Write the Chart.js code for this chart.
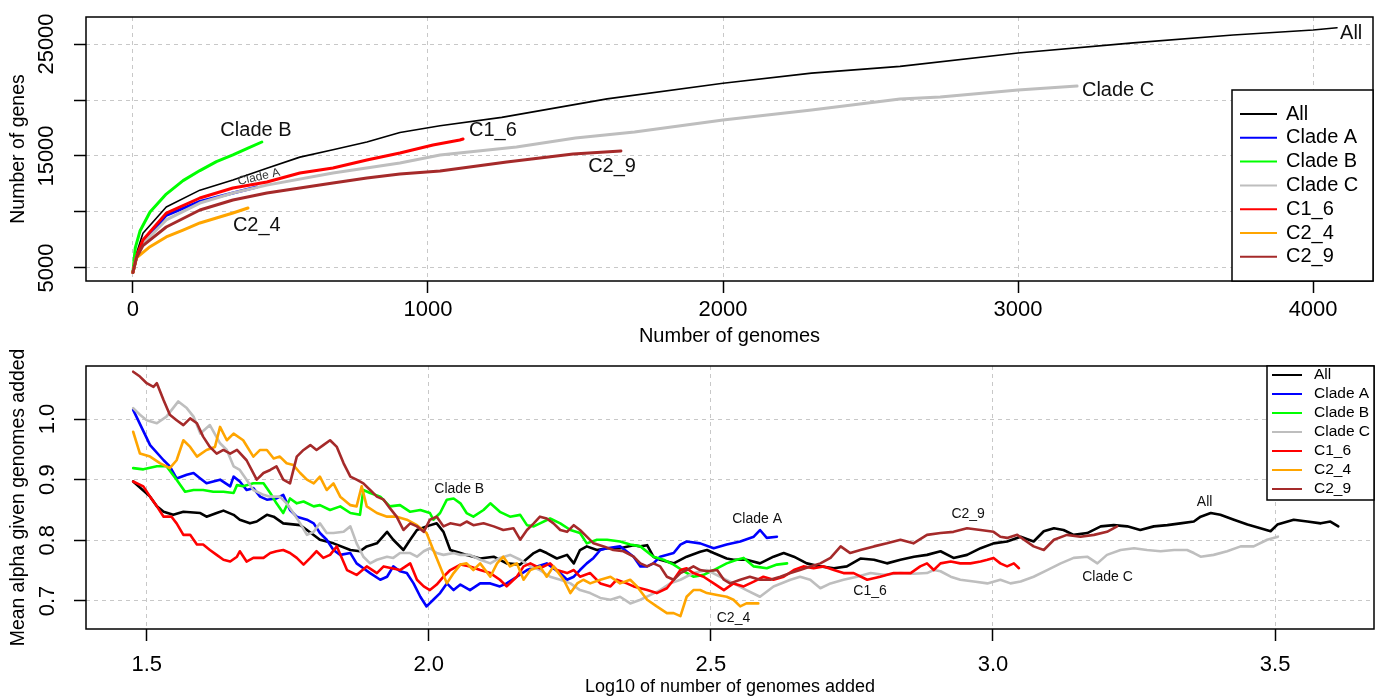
<!DOCTYPE html>
<html>
<head>
<meta charset="utf-8">
<script src="https://cdn.jsdelivr.net/npm/chart.js@4.4.0/dist/chart.umd.min.js"></script>
<style>
  html, body { margin: 0; padding: 0; background: #fff; }
  .panel { position: absolute; left: 0; }
</style>
</head>
<body>
<div class="panel" style="top:0"><canvas id="genesChart" width="1381" height="350"></canvas></div>
<div class="panel" style="top:350px"><canvas id="alphaChart" width="1381" height="348"></canvas></div>
<script>
const seriesNames = ["All", "Clade A", "Clade B", "Clade C", "C1_6", "C2_4", "C2_9"];
const seriesColors = ["#000000", "#0000ff", "#00ff00", "#bebebe", "#ff0000", "#ffa500", "#a52a2a"];

// top panel: [number of genomes, number of genes]
const genesAll = [[0,4600],[12,6300],[34,8100],[113,10450],[227,11950],[339,12850],[454,13900],[566,14900],[678,15550],[793,16250],[905,17100],[1041,17700],[1250,18450],[1607,20100],[2000,21500],[2300,22400],[2600,23000],[3000,24200],[3390,25100],[3729,25800],[4000,26250],[4081,26450]];
const genesCladeA = [[0,4600],[12,6000],[34,7300],[113,9700],[227,10950],[339,11700],[420,12230]];
const genesCladeB = [[0,4600],[8,6800],[24,8300],[58,10000],[113,11600],[170,12800],[227,13700],[283,14500],[339,15100],[390,15700],[437,16250]];
const genesCladeC = [[0,4600],[12,6000],[34,7200],[113,9290],[227,10800],[339,11700],[454,12400],[678,13480],[905,14380],[1041,15090],[1300,15800],[1500,16600],[1700,17140],[2000,18220],[2300,19110],[2600,20090],[2736,20270],[3000,20890],[3200,21250]];
const genesC1_6 = [[0,4600],[12,6000],[34,7500],[113,9900],[227,11250],[339,12140],[454,12680],[566,13480],[678,13930],[793,14640],[905,15270],[1017,15980],[1108,16430],[1119,16520]];
const genesC2_4 = [[0,4600],[12,5900],[58,6900],[113,7770],[170,8390],[227,9020],[283,9460],[339,9910],[390,10360]];
const genesC2_9 = [[0,4600],[12,5900],[34,7000],[113,8660],[227,10180],[339,11070],[454,11700],[566,12140],[678,12590],[793,13040],[905,13390],[1041,13660],[1267,14460],[1492,15180],[1654,15450]];
const genesXTicks = [0, 1000, 2000, 3000, 4000];
const genesYTicks = [5000, 10000, 15000, 20000, 25000];

// bottom panel: [log10 genomes added, mean alpha]
const alphaAll = [[1.476,0.897],[1.506,0.872],[1.518,0.856],[1.530,0.847],[1.547,0.842],[1.565,0.847],[1.595,0.845],[1.606,0.839],[1.624,0.845],[1.636,0.849],[1.654,0.842],[1.665,0.834],[1.683,0.828],[1.695,0.831],[1.713,0.842],[1.725,0.839],[1.742,0.828],[1.772,0.825],[1.790,0.813],[1.807,0.801],[1.831,0.795],[1.861,0.784],[1.878,0.782],[1.890,0.790],[1.908,0.795],[1.926,0.814],[1.937,0.801],[1.955,0.784],[1.967,0.801],[1.979,0.817],[1.996,0.823],[2.014,0.828],[2.026,0.814],[2.038,0.784],[2.056,0.779],[2.067,0.776],[2.091,0.770],[2.115,0.773],[2.138,0.762],[2.162,0.760],[2.186,0.779],[2.197,0.784],[2.209,0.779],[2.227,0.770],[2.245,0.776],[2.257,0.762],[2.268,0.784],[2.280,0.790],[2.298,0.784],[2.316,0.787],[2.339,0.787],[2.363,0.792],[2.375,0.790],[2.387,0.792],[2.398,0.773],[2.410,0.768],[2.434,0.762],[2.457,0.773],[2.481,0.781],[2.493,0.784],[2.505,0.779],[2.528,0.770],[2.540,0.768],[2.563,0.768],[2.587,0.762],[2.611,0.773],[2.629,0.779],[2.647,0.773],[2.670,0.762],[2.694,0.757],[2.718,0.754],[2.741,0.757],[2.765,0.770],[2.789,0.768],[2.812,0.762],[2.836,0.768],[2.860,0.773],[2.883,0.776],[2.907,0.782],[2.930,0.771],[2.954,0.776],[2.978,0.787],[3.001,0.795],[3.025,0.798],[3.049,0.806],[3.072,0.798],[3.090,0.815],[3.108,0.820],[3.125,0.817],[3.143,0.809],[3.167,0.812],[3.191,0.823],[3.214,0.825],[3.238,0.823],[3.261,0.817],[3.285,0.823],[3.309,0.825],[3.332,0.828],[3.356,0.831],[3.368,0.839],[3.386,0.845],[3.403,0.842],[3.427,0.834],[3.451,0.826],[3.474,0.820],[3.492,0.815],[3.504,0.826],[3.533,0.834],[3.557,0.831],[3.581,0.828],[3.598,0.831],[3.612,0.823]];
const alphaCladeA = [[1.476,1.015],[1.506,0.957],[1.530,0.932],[1.541,0.922],[1.553,0.902],[1.571,0.908],[1.583,0.911],[1.595,0.902],[1.606,0.894],[1.618,0.897],[1.630,0.900],[1.648,0.889],[1.654,0.905],[1.665,0.897],[1.677,0.883],[1.689,0.886],[1.701,0.872],[1.713,0.867],[1.730,0.869],[1.742,0.875],[1.754,0.850],[1.766,0.839],[1.784,0.834],[1.796,0.828],[1.807,0.812],[1.819,0.801],[1.831,0.784],[1.843,0.776],[1.861,0.779],[1.872,0.762],[1.884,0.754],[1.896,0.746],[1.914,0.735],[1.926,0.740],[1.937,0.757],[1.949,0.749],[1.961,0.746],[1.973,0.729],[1.985,0.707],[1.996,0.691],[2.008,0.702],[2.020,0.713],[2.032,0.729],[2.044,0.718],[2.056,0.727],[2.073,0.718],[2.091,0.729],[2.109,0.729],[2.126,0.724],[2.138,0.729],[2.156,0.740],[2.174,0.751],[2.192,0.757],[2.209,0.762],[2.233,0.746],[2.245,0.735],[2.257,0.740],[2.268,0.751],[2.280,0.762],[2.292,0.771],[2.304,0.784],[2.316,0.787],[2.339,0.790],[2.363,0.773],[2.375,0.757],[2.387,0.757],[2.398,0.762],[2.410,0.773],[2.434,0.779],[2.446,0.793],[2.457,0.798],[2.481,0.795],[2.505,0.787],[2.528,0.793],[2.552,0.798],[2.576,0.806],[2.587,0.817],[2.599,0.804],[2.617,0.806]];
const alphaCladeB = [[1.476,0.919],[1.494,0.917],[1.518,0.922],[1.535,0.922],[1.553,0.900],[1.568,0.880],[1.583,0.883],[1.600,0.883],[1.618,0.880],[1.636,0.880],[1.654,0.878],[1.660,0.891],[1.671,0.889],[1.689,0.894],[1.707,0.894],[1.719,0.878],[1.730,0.861],[1.742,0.845],[1.754,0.869],[1.766,0.861],[1.778,0.864],[1.796,0.856],[1.807,0.858],[1.825,0.850],[1.843,0.856],[1.861,0.845],[1.878,0.842],[1.884,0.883],[1.896,0.878],[1.914,0.872],[1.931,0.856],[1.949,0.858],[1.967,0.847],[1.985,0.850],[2.002,0.845],[2.008,0.834],[2.020,0.845],[2.032,0.867],[2.044,0.869],[2.056,0.861],[2.067,0.845],[2.079,0.839],[2.097,0.850],[2.109,0.861],[2.126,0.847],[2.144,0.839],[2.162,0.842],[2.174,0.825],[2.186,0.823],[2.197,0.828],[2.215,0.836],[2.233,0.828],[2.251,0.817],[2.268,0.812],[2.280,0.795],[2.298,0.801],[2.316,0.801],[2.339,0.798],[2.357,0.793],[2.375,0.790],[2.398,0.773],[2.416,0.768],[2.434,0.760],[2.452,0.749],[2.469,0.740],[2.487,0.743],[2.505,0.751],[2.528,0.762],[2.546,0.768],[2.558,0.771],[2.576,0.757],[2.599,0.754],[2.617,0.760],[2.635,0.762]];
const alphaCladeC = [[1.476,1.018],[1.488,1.007],[1.500,0.998],[1.518,0.993],[1.535,1.004],[1.556,1.029],[1.571,1.018],[1.583,1.004],[1.595,0.976],[1.612,0.990],[1.630,0.960],[1.642,0.949],[1.654,0.922],[1.665,0.916],[1.677,0.900],[1.689,0.883],[1.707,0.875],[1.719,0.872],[1.736,0.872],[1.748,0.861],[1.760,0.845],[1.772,0.828],[1.784,0.809],[1.796,0.814],[1.807,0.828],[1.819,0.812],[1.831,0.812],[1.849,0.814],[1.861,0.823],[1.872,0.795],[1.884,0.773],[1.896,0.762],[1.908,0.768],[1.926,0.773],[1.937,0.771],[1.949,0.779],[1.967,0.779],[1.979,0.773],[1.991,0.782],[2.002,0.787],[2.014,0.779],[2.026,0.776],[2.044,0.779],[2.056,0.776],[2.073,0.776],[2.091,0.768],[2.109,0.762],[2.126,0.771],[2.144,0.776],[2.162,0.768],[2.180,0.757],[2.197,0.751],[2.215,0.740],[2.233,0.735],[2.251,0.729],[2.268,0.718],[2.286,0.713],[2.304,0.705],[2.322,0.702],[2.339,0.707],[2.357,0.696],[2.375,0.702],[2.393,0.710],[2.410,0.718],[2.428,0.729],[2.446,0.735],[2.469,0.746],[2.493,0.751],[2.516,0.740],[2.540,0.729],[2.563,0.718],[2.587,0.707],[2.611,0.724],[2.641,0.735],[2.658,0.740],[2.676,0.735],[2.694,0.721],[2.712,0.729],[2.735,0.735],[2.759,0.740],[2.783,0.746],[2.806,0.743],[2.836,0.746],[2.859,0.745],[2.883,0.746],[2.895,0.751],[2.907,0.749],[2.925,0.740],[2.942,0.735],[2.966,0.732],[2.990,0.729],[3.013,0.735],[3.031,0.729],[3.049,0.732],[3.072,0.740],[3.096,0.751],[3.120,0.762],[3.143,0.771],[3.167,0.773],[3.185,0.762],[3.202,0.776],[3.226,0.784],[3.250,0.787],[3.273,0.784],[3.297,0.782],[3.321,0.784],[3.344,0.784],[3.356,0.779],[3.368,0.773],[3.391,0.776],[3.415,0.782],[3.439,0.790],[3.462,0.790],[3.486,0.801],[3.505,0.806]];
const alphaC1_6 = [[1.476,0.897],[1.494,0.889],[1.506,0.872],[1.518,0.856],[1.530,0.839],[1.544,0.839],[1.553,0.828],[1.565,0.809],[1.577,0.809],[1.589,0.793],[1.600,0.793],[1.612,0.784],[1.624,0.776],[1.636,0.768],[1.648,0.765],[1.660,0.773],[1.665,0.782],[1.677,0.765],[1.689,0.771],[1.707,0.771],[1.719,0.779],[1.730,0.782],[1.742,0.784],[1.754,0.779],[1.766,0.771],[1.778,0.760],[1.790,0.771],[1.801,0.782],[1.813,0.771],[1.825,0.776],[1.837,0.790],[1.855,0.751],[1.872,0.743],[1.890,0.757],[1.908,0.746],[1.920,0.757],[1.949,0.751],[1.967,0.762],[1.979,0.735],[1.991,0.724],[2.002,0.718],[2.014,0.727],[2.026,0.740],[2.038,0.751],[2.056,0.760],[2.073,0.757],[2.091,0.751],[2.109,0.746],[2.126,0.735],[2.138,0.724],[2.156,0.740],[2.168,0.757],[2.180,0.762],[2.197,0.754],[2.215,0.762],[2.227,0.751],[2.245,0.746],[2.257,0.751],[2.268,0.740],[2.286,0.746],[2.304,0.729],[2.322,0.724],[2.333,0.735],[2.351,0.729],[2.363,0.724],[2.387,0.718],[2.404,0.713],[2.422,0.721],[2.434,0.735],[2.446,0.751],[2.457,0.754],[2.469,0.746],[2.487,0.740],[2.505,0.729],[2.523,0.718],[2.540,0.729],[2.558,0.724],[2.576,0.732],[2.593,0.740],[2.611,0.735],[2.629,0.740],[2.647,0.751],[2.664,0.757],[2.682,0.754],[2.700,0.757],[2.718,0.751],[2.735,0.746],[2.753,0.746],[2.777,0.735],[2.800,0.740],[2.824,0.746],[2.854,0.746],[2.871,0.757],[2.883,0.762],[2.895,0.751],[2.907,0.762],[2.925,0.765],[2.942,0.762],[2.960,0.762],[2.978,0.765],[2.990,0.768],[3.001,0.771],[3.013,0.762],[3.025,0.757],[3.037,0.762],[3.046,0.754]];
const alphaC2_4 = [[1.476,0.979],[1.488,0.943],[1.506,0.938],[1.524,0.927],[1.541,0.919],[1.553,0.932],[1.565,0.965],[1.577,0.954],[1.589,0.938],[1.606,0.949],[1.621,0.954],[1.630,0.987],[1.642,0.965],[1.654,0.976],[1.671,0.965],[1.689,0.938],[1.701,0.949],[1.713,0.949],[1.725,0.935],[1.736,0.938],[1.748,0.927],[1.760,0.924],[1.772,0.911],[1.784,0.900],[1.796,0.894],[1.807,0.905],[1.819,0.883],[1.831,0.894],[1.843,0.872],[1.861,0.858],[1.872,0.856],[1.881,0.889],[1.890,0.856],[1.908,0.845],[1.926,0.839],[1.943,0.839],[1.961,0.834],[1.979,0.825],[1.996,0.812],[2.008,0.784],[2.020,0.757],[2.032,0.729],[2.044,0.746],[2.056,0.760],[2.067,0.762],[2.079,0.751],[2.091,0.762],[2.109,0.740],[2.121,0.762],[2.132,0.773],[2.144,0.757],[2.156,0.762],[2.168,0.735],[2.180,0.751],[2.197,0.757],[2.209,0.740],[2.221,0.757],[2.239,0.735],[2.251,0.713],[2.263,0.729],[2.274,0.735],[2.286,0.729],[2.304,0.735],[2.322,0.740],[2.339,0.729],[2.357,0.735],[2.369,0.724],[2.387,0.702],[2.404,0.691],[2.422,0.680],[2.434,0.680],[2.446,0.675],[2.457,0.707],[2.469,0.718],[2.481,0.718],[2.493,0.713],[2.511,0.710],[2.528,0.707],[2.540,0.702],[2.552,0.691],[2.563,0.696],[2.584,0.696]];
const alphaC2_9 = [[1.476,1.078],[1.488,1.070],[1.500,1.059],[1.512,1.053],[1.518,1.059],[1.530,1.031],[1.541,1.007],[1.553,0.998],[1.565,0.990],[1.577,1.001],[1.589,0.993],[1.600,0.971],[1.612,0.954],[1.624,0.943],[1.636,0.949],[1.648,0.943],[1.660,0.949],[1.677,0.932],[1.695,0.900],[1.707,0.911],[1.719,0.916],[1.730,0.922],[1.742,0.900],[1.754,0.894],[1.766,0.938],[1.778,0.949],[1.790,0.957],[1.801,0.949],[1.813,0.957],[1.825,0.965],[1.837,0.954],[1.849,0.927],[1.861,0.905],[1.872,0.900],[1.884,0.894],[1.896,0.883],[1.908,0.872],[1.920,0.867],[1.931,0.853],[1.943,0.839],[1.955,0.817],[1.967,0.828],[1.979,0.823],[1.991,0.814],[2.002,0.834],[2.014,0.839],[2.026,0.823],[2.038,0.828],[2.056,0.825],[2.067,0.831],[2.079,0.825],[2.097,0.828],[2.115,0.823],[2.132,0.817],[2.150,0.820],[2.162,0.801],[2.174,0.817],[2.186,0.828],[2.197,0.839],[2.209,0.836],[2.221,0.828],[2.233,0.817],[2.245,0.814],[2.257,0.825],[2.268,0.817],[2.280,0.806],[2.292,0.795],[2.310,0.790],[2.327,0.784],[2.345,0.782],[2.363,0.773],[2.375,0.762],[2.387,0.757],[2.398,0.762],[2.410,0.757],[2.422,0.740],[2.434,0.735],[2.446,0.746],[2.457,0.751],[2.469,0.757],[2.481,0.751],[2.493,0.749],[2.511,0.751],[2.523,0.735],[2.534,0.729],[2.552,0.735],[2.569,0.740],[2.587,0.735],[2.605,0.735],[2.623,0.740],[2.641,0.746],[2.658,0.751],[2.676,0.757],[2.694,0.762],[2.712,0.771],[2.730,0.790],[2.747,0.779],[2.765,0.784],[2.789,0.790],[2.812,0.795],[2.836,0.801],[2.859,0.795],[2.883,0.809],[2.907,0.812],[2.930,0.814],[2.954,0.820],[2.978,0.817],[3.001,0.814],[3.013,0.806],[3.025,0.804],[3.043,0.809],[3.055,0.801],[3.072,0.790],[3.090,0.784],[3.108,0.801],[3.131,0.809],[3.155,0.806],[3.179,0.809],[3.202,0.814],[3.220,0.823]];
const alphaXTicks = [1.5, 2.0, 2.5, 3.0, 3.5];
const alphaYTicks = [0.7, 0.8, 0.9, 1.0];

// curve labels written next to the lines: [text, x, y, font size, rotation]
const genesNotes = [["Clade B", 417, 17320, 20, 0], ["Clade A", 427, 13125, 12, -13], ["C2_4", 420, 8840, 20, 0], ["C1_6", 1220, 17320, 20, 0], ["C2_9", 1624, 14020, 20, 0], ["Clade C", 3339, 20890, 20, 0], ["All", 4129, 25980, 20, 0]];
const alphaNotes = [["Clade B", 2.054, 0.885, 14, 0], ["Clade A", 2.582, 0.835, 14, 0], ["C2_4", 2.540, 0.672, 14, 0], ["C1_6", 2.782, 0.717, 14, 0], ["C2_9", 2.956, 0.843, 14, 0], ["Clade C", 3.203, 0.740, 14, 0], ["All", 3.375, 0.863, 14, 0]];

const fontFamily = "'Liberation Sans', Arial, Helvetica, sans-serif";

function makeDatasets(seriesList, widths) {
  return seriesList.map((points, i) => ({
    label: seriesNames[i],
    data: points.map(p => ({ x: p[0], y: p[1] })),
    borderColor: seriesColors[i],
    borderWidth: widths[i],
    pointRadius: 0,
    tension: 0,
    borderJoinStyle: "round",
    borderCapStyle: "round",
    order: seriesList.length - i
  }));
}

// R-like extras: box, vertical y labels, curve labels, boxed legend
const decorPlugin = {
  id: "decor",
  afterDatasetsDraw(chart, args, opts) {
    const ctx = chart.ctx;
    const area = chart.chartArea;
    const xs = chart.scales.x;
    const ys = chart.scales.y;
    ctx.save();
    ctx.strokeStyle = "#000";
    ctx.lineWidth = 1.5;
    ctx.strokeRect(area.left, area.top, area.right - area.left, area.bottom - area.top);

    ctx.fillStyle = "#000";
    ctx.textAlign = "center";
    ctx.textBaseline = "middle";
    ctx.font = opts.tickSize + "px " + fontFamily;
    // like R, a label is dropped when it would crowd the one below it
    const gap = ctx.measureText("m").width;
    let lastEdge = Infinity;
    ys.ticks.forEach(t => {
      const label = opts.yFormat(t.value);
      const py = ys.getPixelForValue(t.value);
      const half = ctx.measureText(label).width / 2;
      if (py + half + gap > lastEdge) return;
      lastEdge = py - half;
      ctx.save();
      ctx.translate(opts.yLabelX, py);
      ctx.rotate(-Math.PI / 2);
      ctx.fillText(label, 0, 0);
      ctx.restore();
    });

    opts.notes.forEach(n => {
      ctx.save();
      ctx.font = n[3] + "px " + fontFamily;
      ctx.fillStyle = n[3] < 13 ? "#333" : "#111";
      ctx.translate(xs.getPixelForValue(n[1]), ys.getPixelForValue(n[2]));
      if (n[4]) ctx.rotate(n[4] * Math.PI / 180);
      ctx.fillText(n[0], 0, 0);
      ctx.restore();
    });

    const lg = opts.legend;
    const boxRight = area.right;
    const boxBottom = lg.bottom === "area" ? area.bottom : lg.bottom;
    const boxTop = lg.top === "area" ? area.top : lg.top;
    ctx.fillStyle = "#fff";
    ctx.fillRect(lg.left, boxTop, boxRight - lg.left, boxBottom - boxTop);
    ctx.strokeStyle = "#000";
    ctx.lineWidth = 1.5;
    ctx.strokeRect(lg.left, boxTop, boxRight - lg.left, boxBottom - boxTop);
    ctx.font = lg.size + "px " + fontFamily;
    ctx.textAlign = "left";
    chart.data.datasets.forEach((ds, i) => {
      const y = lg.firstRow + i * lg.rowStep;
      ctx.strokeStyle = ds.borderColor;
      ctx.lineWidth = 2;
      ctx.beginPath();
      ctx.moveTo(lg.lineFrom, y);
      ctx.lineTo(lg.lineTo, y);
      ctx.stroke();
      ctx.fillStyle = "#000";
      ctx.fillText(ds.label, lg.textX, y);
    });
    ctx.restore();
  }
};

function axisOptions(min, max, tickValues, fitKey, fitSize) {
  return {
    type: "linear",
    min: min,
    max: max,
    afterBuildTicks: s => { s.ticks = tickValues.map(v => ({ value: v })); },
    afterFit: s => { s[fitKey] = fitSize; },
    grid: { color: "#c8c8c8", lineWidth: 1, tickLength: 12, tickColor: "#000", tickWidth: 1.5 },
    border: { display: false, dash: [4, 4] }
  };
}

const genesX = axisOptions(-159, 4203, genesXTicks, "height", 69);
genesX.ticks = { color: "#000", padding: 4, maxRotation: 0, autoSkip: false, font: { size: 22, family: fontFamily }, callback: v => String(v) };
genesX.title = { display: true, text: "Number of genomes", color: "#000", font: { size: 20, family: fontFamily }, padding: { top: 0, bottom: 2 } };
const genesY = axisOptions(3839, 27411, genesYTicks, "width", 86);
genesY.ticks = { display: false };
genesY.title = { display: true, text: "Number of genes", color: "#000", font: { size: 19.5, family: fontFamily }, padding: { top: 7, bottom: 0 } };

new Chart(document.getElementById("genesChart"), {
  type: "line",
  data: { datasets: makeDatasets([genesAll, genesCladeA, genesCladeB, genesCladeC, genesC1_6, genesC2_4, genesC2_9], [1.6, 3, 3, 3, 3, 3, 3]) },
  options: {
    responsive: false,
    animation: false,
    layout: { padding: { top: 17, right: 8, left: 0, bottom: 0 } },
    plugins: {
      legend: { display: false },
      tooltip: { enabled: false },
      decor: {
        tickSize: 22,
        yLabelX: 47,
        yFormat: v => String(v),
        notes: genesNotes,
        legend: { left: 1232, top: 90, bottom: "area", firstRow: 114, rowStep: 23.8, lineFrom: 1240, lineTo: 1277, textX: 1286, size: 20 }
      }
    },
    scales: { x: genesX, y: genesY }
  },
  plugins: [decorPlugin]
});

const alphaX = axisOptions(1.3924, 3.6753, alphaXTicks, "height", 69);
alphaX.ticks = { color: "#000", padding: 11, maxRotation: 0, autoSkip: false, font: { size: 22, family: fontFamily }, callback: v => v.toFixed(1) };
alphaX.title = { display: true, text: "Log10 of number of genomes added", color: "#000", font: { size: 18, family: fontFamily }, padding: { top: 0, bottom: 0 } };
const alphaY = axisOptions(0.6538, 1.0874, alphaYTicks, "width", 86);
alphaY.ticks = { display: false };
alphaY.title = { display: true, text: "Mean alpha given genomes added", color: "#000", font: { size: 19.4, family: fontFamily }, padding: { top: 7, bottom: 0 } };

new Chart(document.getElementById("alphaChart"), {
  type: "line",
  data: { datasets: makeDatasets([alphaAll, alphaCladeA, alphaCladeB, alphaCladeC, alphaC1_6, alphaC2_4, alphaC2_9], [2.6, 2.6, 2.6, 2.6, 2.6, 2.6, 2.6]) },
  options: {
    responsive: false,
    animation: false,
    layout: { padding: { top: 16, right: 7, left: 0, bottom: 0 } },
    plugins: {
      legend: { display: false },
      tooltip: { enabled: false },
      decor: {
        tickSize: 22,
        yLabelX: 48,
        yFormat: v => v.toFixed(1),
        notes: alphaNotes,
        legend: { left: 1267, top: "area", bottom: 150, firstRow: 25, rowStep: 19, lineFrom: 1272, lineTo: 1302, textX: 1314, size: 15.5 }
      }
    },
    scales: { x: alphaX, y: alphaY }
  },
  plugins: [decorPlugin]
});
</script>
</body>
</html>
